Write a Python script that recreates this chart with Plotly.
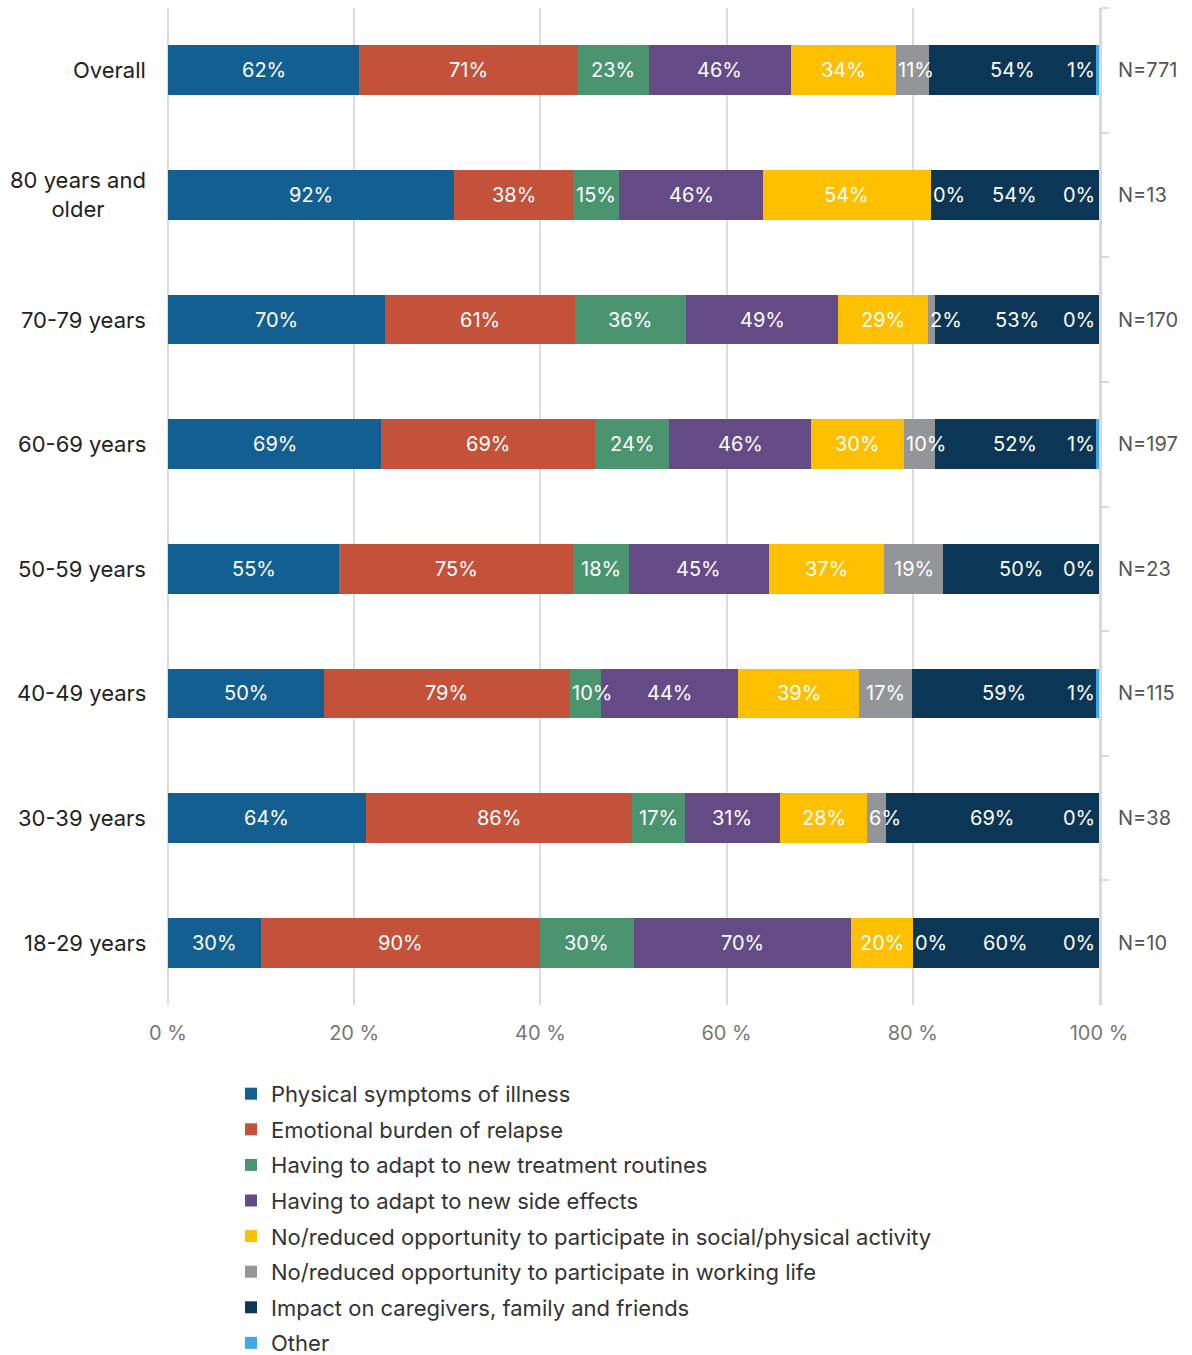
import plotly.graph_objects as go

# Age groups, top to bottom
groups = ["Overall", "80 years and older", "70-79 years", "60-69 years",
          "50-59 years", "40-49 years", "30-39 years", "18-29 years"]
group_labels = ["Overall", "80 years and<br>older", "70-79 years", "60-69 years",
                "50-59 years", "40-49 years", "30-39 years", "18-29 years"]
sample_sizes = ["N=771", "N=13", "N=170", "N=197", "N=23", "N=115", "N=38", "N=10"]

# Share of respondents naming each burden (%), per age group
physical = [62, 92, 70, 69, 55, 50, 64, 30]
emotional = [71, 38, 61, 69, 75, 79, 86, 90]
treatment = [23, 15, 36, 24, 18, 10, 17, 30]
side_effects = [46, 46, 49, 46, 45, 44, 31, 70]
social = [34, 54, 29, 30, 37, 39, 28, 20]
working = [11, 0, 2, 10, 19, 17, 6, 0]
caregivers = [54, 54, 53, 52, 50, 59, 69, 60]
other = [1, 0, 0, 1, 0, 1, 0, 0]

series_names = [
    "Physical symptoms of illness",
    "Emotional burden of relapse",
    "Having to adapt to new treatment routines",
    "Having to adapt to new side effects",
    "No/reduced opportunity to participate in social/physical activity",
    "No/reduced opportunity to participate in working life",
    "Impact on caregivers, family and friends",
    "Other",
]
series_values = [physical, emotional, treatment, side_effects, social, working, caregivers, other]
colors = ["#135f91", "#c4523a", "#4a9470", "#644b86", "#fdc000", "#939598", "#0c3656", "#3fa9e8"]

x_ticks = [0, 20, 40, 60, 80, 100]
x_tick_labels = ["0 %", "20 %", "40 %", "60 %", "80 %", "100 %"]

FONT = "Inter, Lato, sans-serif"

fig = go.Figure()

for name, vals, col in zip(series_names, series_values, colors):
    fig.add_trace(go.Bar(
        y=groups, x=vals, name=name, orientation="h",
        marker=dict(color=col, line=dict(width=0)),
        legendgroup=name, hoverinfo="x+name",
    ))

# invisible trace to carry the sample-size axis on the right
fig.add_trace(go.Scatter(
    y=sample_sizes, x=[0] * len(sample_sizes), yaxis="y2", mode="markers",
    marker=dict(opacity=0), showlegend=False, hoverinfo="skip",
))

annotations = []

# value labels inside the normalised segments
totals = [sum(s[r] for s in series_values) for r in range(len(groups))]
for r, g in enumerate(groups):
    start = 0.0
    for i, vals in enumerate(series_values):
        share = vals[r] / totals[r] * 100
        text = f"{vals[r]}%"
        est = 1.45 * len(text)
        if i == len(series_values) - 1:
            x, anchor, shift = 100, "right", -2
        elif share >= est:
            x, anchor, shift = start + share / 2, "center", 0
        else:
            x, anchor, shift = start, "left", 0
        annotations.append(dict(
            x=x, y=g, xref="x", yref="y", text=text, showarrow=False,
            xanchor=anchor, xshift=shift, yanchor="middle",
            font=dict(family=FONT, size=20, color="white"),
        ))
        start += share

# category labels on the left
for g, lab in zip(groups, group_labels):
    annotations.append(dict(
        x=0, y=g, xref="paper", yref="y", text=lab, showarrow=False,
        xanchor="right", xshift=-20, yanchor="middle", align="center",
        font=dict(family=FONT, size=22, color="#222222"),
    ))

fig.update_layout(
    width=1192, height=1355,
    margin=dict(l=168, r=93, t=8, b=350),
    paper_bgcolor="white", plot_bgcolor="white",
    barmode="stack", barnorm="percent", bargap=0.6,
    font=dict(family=FONT, size=20, color="#333333"),
    showlegend=True,
    legend=dict(
        orientation="v", x=0.0677, xanchor="left",
        yref="container", y=0.2082, yanchor="top",
        font=dict(family=FONT, size=22, color="#333333"),
        traceorder="grouped", tracegroupgap=4, bgcolor="rgba(0,0,0,0)",
    ),
    xaxis=dict(
        range=[0, 100], tickmode="array", tickvals=x_ticks, ticktext=x_tick_labels,
        showgrid=True, gridcolor="#dcdcdc", gridwidth=2,
        zeroline=True, zerolinecolor="#dcdcdc", zerolinewidth=2,
        showline=False, ticks="", ticklabelstandoff=14,
        tickfont=dict(family=FONT, size=20, color="#777777"),
        fixedrange=True,
    ),
    yaxis=dict(
        type="category", categoryorder="array", categoryarray=groups,
        range=[7.5, -0.5], showticklabels=False, showgrid=False,
        zeroline=False, showline=False, ticks="", fixedrange=True,
    ),
    yaxis2=dict(
        type="category", categoryorder="array", categoryarray=sample_sizes,
        overlaying="y", side="right", range=[7.5, -0.5],
        showline=True, linecolor="#d9d9d9", linewidth=3,
        ticks="outside", tickson="boundaries", ticklen=7, tickwidth=2,
        tickcolor="#d9d9d9", ticklabelstandoff=12, showgrid=False,
        tickfont=dict(family=FONT, size=20, color="#555555"),
        fixedrange=True,
    ),
    annotations=annotations,
)

fig.write_html("out.html")
